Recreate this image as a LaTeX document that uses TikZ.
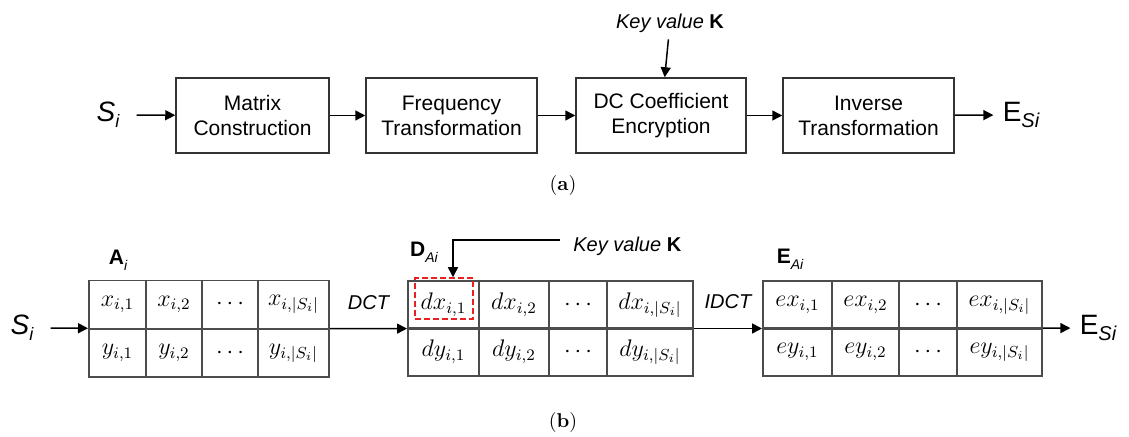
\documentclass[tikz,border=0pt]{standalone}
\usepackage{fontspec}
\newfontfamily\arial{Liberation Sans}
\usetikzlibrary{arrows.meta,fit,positioning}
\definecolor{keyred}{RGB}{232,32,32}
\newcommand\lsub[2][9]{\raisebox{-3pt}{\fontsize{#1}{#1}\selectfont\itshape #2}}

\begin{document}
\begin{tikzpicture}
[x=0.5pt,y=-0.5pt
,blk/.style={draw=black!80,line width=0.75pt,minimum height=37.5pt,align=center,inner sep=0pt,font=\arial\fontsize{10.5}{12.5}\selectfont}
,cell/.style={draw=black!70,line width=0.6pt,minimum height=24pt,inner sep=0pt,font=\large}
,ar/.style={draw=black,line width=0.75pt,arrows={-Triangle[length=5pt,width=5pt]}}
,lbl/.style={font=\arial\fontsize{10}{12}\selectfont}
,sym/.style={font=\arial\fontsize{14}{16}\selectfont,inner ysep=0pt,inner xsep=8.5pt}
,esym/.style={sym,inner xsep=4.5pt}
,mtx/.style={font=\arial\fontsize{10.5}{12}\selectfont\bfseries,inner sep=0pt}
,subcap/.style={font=\fontsize{10}{12}\selectfont}]
\useasboundingbox (0,0) rectangle (1129,437);

% (a) processing chain
\node[sym] (si1) at (108,115) {\itshape S\lsub{i}};
\node[blk,minimum width=76.5pt] (mc) at (252.5,115.5) {Matrix\\Construction};
\node[blk,minimum width=85.5pt] (ft) at (451.5,115.5) {Frequency\\Transformation};
\node[blk,minimum width=85pt] (dce) at (661,115.5) {DC Coefficient\\Encryption};
\node[blk,minimum width=85.5pt] (it) at (868.5,115.5) {Inverse\\Transformation};
\node[esym] (es1) at (1021,115) {E\lsub[10]{Si}};
\node[lbl] (key1) at (670,23) {\itshape Key value \textbf{\upshape K}};
\draw[ar] (si1) -- (mc);
\draw[ar] (mc) -- (ft);
\draw[ar] (ft) -- (dce);
\draw[ar] (dce) -- (it);
\draw[ar] (it) -- (es1);
\draw[ar] (key1) -- (dce);
\node[subcap] (capa) at (563,186) {(\textbf{a})};

% (b) matrices
\node[mtx] (la) at (118,260) {A\lsub[7]{\mdseries i}};
\node[cell,minimum width=28.5pt] (a11) at (117.5,304.5) {$x_{i,1}$};
\node[cell,minimum width=28pt] (a12) at (174,304.5) {$x_{i,2}$};
\node[cell,minimum width=28pt] (a13) at (230,304.5) {$\cdots$};
\node[cell,minimum width=35.5pt] (a14) at (293.5,304.5) {$x_{i,|S_i|}$};
\node[cell,minimum width=28.5pt] (a21) at (117.5,353) {$y_{i,1}$};
\node[cell,minimum width=28pt] (a22) at (174,353) {$y_{i,2}$};
\node[cell,minimum width=28pt] (a23) at (230,353) {$\cdots$};
\node[cell,minimum width=35.5pt] (a24) at (293.5,353) {$y_{i,|S_i|}$};
\node[fit=(a11)(a24),inner sep=0pt] (A) {};

\node[mtx] (ld) at (424,252) {D\lsub[7]{\mdseries Ai}};
\node[cell,minimum width=35.5pt] (d11) at (443.5,305) {$dx_{i,1}$};
\node[cell,minimum width=35pt] (d12) at (514,305) {$dx_{i,2}$};
\node[cell,minimum width=29pt] (d13) at (578,305) {$\cdots$};
\node[cell,minimum width=43pt] (d14) at (650,305) {$dx_{i,|S_i|}$};
\node[cell,minimum width=35.5pt] (d21) at (443.5,352) {$dy_{i,1}$};
\node[cell,minimum width=35pt] (d22) at (514,352) {$dy_{i,2}$};
\node[cell,minimum width=29pt] (d23) at (578,352) {$\cdots$};
\node[cell,minimum width=43pt] (d24) at (650,352) {$dy_{i,|S_i|}$};
\node[fit=(d11)(d24),inner sep=0pt] (D) {};
\node[draw=keyred,line width=0.75pt,dash pattern=on 3pt off 1.5pt,minimum width=29pt,minimum height=20.5pt] (dk) at (444,298.5) {};

\node[mtx] (le) at (790,259) {E\lsub[7]{\mdseries Ai}};
\node[cell,minimum width=34.5pt] (e11) at (797.5,305) {$ex_{i,1}$};
\node[cell,minimum width=33.5pt] (e12) at (865.5,305) {$ex_{i,2}$};
\node[cell,minimum width=29pt] (e13) at (928,305) {$\cdots$};
\node[cell,minimum width=42.5pt] (e14) at (999.5,305) {$ex_{i,|S_i|}$};
\node[cell,minimum width=34.5pt] (e21) at (797.5,352) {$ey_{i,1}$};
\node[cell,minimum width=33.5pt] (e22) at (865.5,352) {$ey_{i,2}$};
\node[cell,minimum width=29pt] (e23) at (928,352) {$\cdots$};
\node[cell,minimum width=42.5pt] (e24) at (999.5,352) {$ey_{i,|S_i|}$};
\node[fit=(e11)(e24),inner sep=0pt] (E) {};

\node[sym] (si2) at (22,328) {\itshape S\lsub{i}};
\node[esym] (es2) at (1098,328) {E\lsub[10]{Si}};
\coordinate (kb) at (560,240);
\node[lbl,anchor=west,inner xsep=6.5pt] (key2) at (560,246) {\itshape Key value \textbf{\upshape K}};
\draw[ar] (si2) -- (A);
\draw[ar] (A) -- node[lbl,above=6pt]{\itshape DCT} (D);
\draw[ar] (D) -- node[lbl,above=6pt]{\itshape IDCT} (E);
\draw[ar] (E) -- (es2);
\draw[ar] (kb) -| ([xshift=4.5pt]dk.north);
\node[subcap] (capb) at (563,423) {(\textbf{b})};
\end{tikzpicture}
\end{document}
